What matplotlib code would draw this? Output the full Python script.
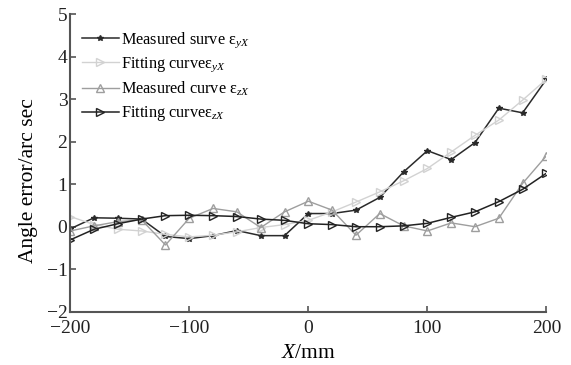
import numpy as np
import matplotlib.pyplot as plt

plt.rcParams['font.family'] = ['Liberation Serif', 'DejaVu Serif']
plt.rcParams['mathtext.fontset'] = 'custom'
plt.rcParams['mathtext.rm'] = 'Liberation Serif'
plt.rcParams['mathtext.it'] = 'Liberation Serif:italic'

# Position along X (mm)
x_pos = list(range(-200, 201, 20))

# Angle errors (arc sec)
measured_yx = [-0.05, 0.21, 0.20, 0.18, -0.23, -0.28, -0.21, -0.09, -0.21, -0.21, 0.31,
               0.31, 0.39, 0.69, 1.29, 1.79, 1.58, 1.98, 2.79, 2.68, 3.47]
fitting_yx = [0.24, 0.05, -0.06, -0.10, -0.18, -0.24, -0.20, -0.12, -0.02, 0.05, 0.15,
              0.35, 0.58, 0.82, 1.08, 1.37, 1.76, 2.15, 2.51, 2.98, 3.47]
measured_zx = [-0.10, 0.02, 0.12, 0.16, -0.43, 0.20, 0.43, 0.35, -0.02, 0.35, 0.60,
               0.39, -0.20, 0.31, 0.02, -0.10, 0.09, 0.00, 0.20, 1.02, 1.67]
fitting_zx = [-0.31, -0.06, 0.07, 0.18, 0.26, 0.27, 0.26, 0.24, 0.18, 0.15, 0.07,
              0.05, 0.00, 0.00, 0.02, 0.08, 0.22, 0.35, 0.59, 0.88, 1.26]

fig = plt.figure(figsize=(5.71, 3.65), dpi=100)
ax = fig.add_axes([0.123, 0.146, 0.834, 0.815])

ax.plot(x_pos, measured_yx, color='#2a2a2a', lw=1.1, marker='*', ms=4,
        label=r'Measured surve ε$_{yX}$')
ax.plot(x_pos, fitting_yx, color='#d2d2d2', lw=1.0, marker='>', ms=6, mfc='none',
        label=r'Fitting curveε$_{yX}$')
ax.plot(x_pos, measured_zx, color='#9e9e9e', lw=1.0, marker='^', ms=6, mfc='none',
        label=r'Measured curve ε$_{zX}$')
ax.plot(x_pos, fitting_zx, color='#222222', lw=1.1, marker='>', ms=6, mfc='none',
        label=r'Fitting curveε$_{zX}$')

ax.set_xlim(-200, 200)
ax.set_ylim(-2, 5)
ax.set_xticks([-200, -100, 0, 100, 200])
ax.set_yticks(range(-2, 6))
ax.tick_params(direction='in', length=4, width=1.2, pad=2, labelsize=14,
               colors='#555555', labelcolor='#222222')
ax.tick_params(axis='x', pad=6)
for side in ['top', 'right']:
    ax.spines[side].set_visible(False)
for side in ['left', 'bottom']:
    ax.spines[side].set_color('#555555')
    ax.spines[side].set_linewidth(1.5)

ax.set_xlabel(r'$X$/mm', fontsize=15.5, labelpad=5)
ax.set_ylabel('Angle error/arc sec', fontsize=15.5)
ax.yaxis.set_label_coords(-0.068, 0.44)

ax.legend(loc='upper left', bbox_to_anchor=(0.0, 0.985), frameon=False, fontsize=11.7,
          handlelength=2.3, handletextpad=0.1, labelspacing=0.36, borderaxespad=0.3)

fig.savefig('out.png', dpi=100)
